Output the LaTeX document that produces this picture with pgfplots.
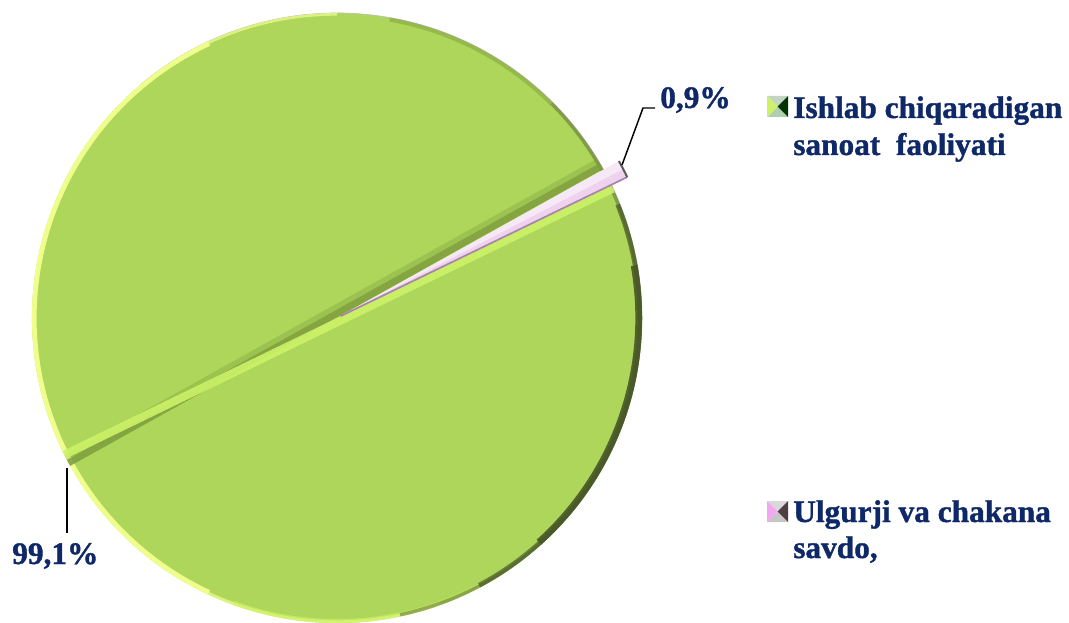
\documentclass[border=0pt]{standalone}
\usepackage{pgfplots}
\pgfplotsset{compat=1.18}
\usepackage{pgfplotstable}
\usepackage{fontspec}
\setmainfont{Liberation Serif}
\newfontfamily\lblfont{Liberation Serif Bold}[FakeBold=1.2]
\definecolor{navy}{RGB}{14,40,104}
\definecolor{pgreen}{RGB}{173,214,90}
\definecolor{plight}{RGB}{240,255,140}
\definecolor{pdark}{RGB}{72,88,40}
\definecolor{pshade}{RGB}{126,158,62}
\definecolor{pglow}{RGB}{205,242,104}
\definecolor{ppink}{RGB}{238,210,238}
\definecolor{ppinkd}{RGB}{170,132,170}

\pgfplotstableread{
cat value
Ishlab 99.1
Ulgurji 0.9
}\piedata

\begin{document}
\begin{tikzpicture}
\pgfplotstablegetelem{0}{value}\of\piedata \edef\vA{\pgfplotsretval}
\pgfplotstablegetelem{1}{value}\of\piedata \edef\vB{\pgfplotsretval}
\pgfmathsetmacro\pmid{27.5}
\pgfmathsetmacro\pstart{\pmid-\vB*1.8}
\pgfmathsetmacro\pend{\pmid+\vB*1.8}
\pgfmathsetmacro\gend{\pend+\vA*3.6}
\def\R{228.75pt}
\def\Rp{239pt}
\tikzset{lbl/.style={anchor=base west,inner sep=0,font=\lblfont\fontsize{23.5}{27.75}\selectfont,text=navy}}
\begin{axis}[width=801.75pt,height=467.25pt,scale only axis,
  xmin=0,xmax=1069,ymin=0,ymax=623,y dir=reverse,hide axis,clip=false]
\coordinate (bl) at (axis cs:0,623);
\coordinate (tr) at (axis cs:1069,0);
% green slice
\fill[pgreen] (axis cs:337,318) -- ++(\pend:\R) arc[start angle=\pend,end angle=\gend,radius=\R] -- cycle;
\draw[gray!50,line width=0.5pt] (axis cs:337,318) ++(-40:\R) arc[start angle=-40,end angle=130,radius=\R];
\begin{scope}
\clip (axis cs:337,318) circle[radius=\R];
% light left rim
\draw[plight,line width=7pt] (axis cs:337,318) ++(115:\R) arc[start angle=115,end angle=245,radius=\R];
\draw[plight,line width=4pt,opacity=0.7] (axis cs:337,318) ++(90:\R) arc[start angle=90,end angle=290,radius=\R];
\draw[pglow,line width=6pt,opacity=0.6] (axis cs:337,318) ++(250:\R) arc[start angle=250,end angle=310,radius=\R];
% dark right rim
\draw[pdark,line width=5pt,opacity=0.45] (axis cs:337,318) ++(-78:\R) arc[start angle=-78,end angle=45,radius=\R];
\draw[pdark,line width=10pt,opacity=0.9] (axis cs:337,318) ++(-48:\R) arc[start angle=-48,end angle=10,radius=\R];
\draw[pdark,line width=7pt,opacity=0.7] (axis cs:337,318) ++(-62:\R) arc[start angle=-62,end angle=22,radius=\R];
\draw[pshade,line width=6pt,opacity=0.5] (axis cs:337,318) ++(45:\R) arc[start angle=45,end angle=80,radius=\R];
% seam bands
\draw[pshade,line width=9pt,opacity=0.35] (axis cs:337,318) ++(\pend+90:5pt) ++(\pend:\R) -- ++({\pend+180}:{2.2*\R});
\draw[pshade,line width=5pt,opacity=0.8] (axis cs:337,318) ++(\pend+90:3pt) ++(\pend:\R) -- ++({\pend+180}:{2.2*\R});
\draw[pglow,line width=6pt,opacity=0.9] (axis cs:337,318) ++(\pstart-90:3pt) ++(\pstart:\R) -- ++({\pstart+180}:{2.2*\R});
\end{scope}
% pink slice (exploded)
\fill[ppink] (axis cs:337,318) ++(\pmid:3pt) -- ++(\pstart:\Rp) arc[start angle=\pstart,end angle=\pend,radius=\Rp] -- cycle;
\fill[white,opacity=0.5] (axis cs:337,318) ++(\pmid:3pt) -- ++(\pmid:\Rp) arc[start angle=\pmid,end angle=\pend,radius=\Rp] -- cycle;
\draw[ppinkd,line width=1.3pt] (axis cs:337,318) ++(\pmid:3pt) -- ++(\pstart:\Rp);
\draw[black!65,line width=1.5pt] (axis cs:337,318) ++(\pmid:3pt) ++(\pstart:\Rp) arc[start angle=\pstart,end angle=\pend,radius=\Rp];
% leader lines
\draw[black,line width=1.1pt] (axis cs:622,165) -- (axis cs:643,108) -- (axis cs:655,108);
\draw[black,line width=1.1pt] (axis cs:67,468) -- (axis cs:67,533);
% data labels
\node[lbl] at (axis cs:660,108) {0,9\%};
\node[lbl] at (axis cs:12,564) {99,1\%};
% legend markers
\fill[green!15!gray!40] (axis cs:767,96) -- (axis cs:788,96) -- (axis cs:777.5,106.5) -- cycle;
\fill[green!25!gray!50] (axis cs:767,117) -- (axis cs:788,117) -- (axis cs:777.5,106.5) -- cycle;
\fill[pglow] (axis cs:767,96) -- (axis cs:777.5,106.5) -- (axis cs:767,117) -- cycle;
\fill[black!80!green] (axis cs:788,96) -- (axis cs:777.5,106.5) -- (axis cs:788,117) -- cycle;
\fill[gray!30] (axis cs:767,501) -- (axis cs:788,501) -- (axis cs:777.5,511.5) -- cycle;
\fill[gray!45] (axis cs:767,522) -- (axis cs:788,522) -- (axis cs:777.5,511.5) -- cycle;
\fill[ppink!80!magenta] (axis cs:767,501) -- (axis cs:777.5,511.5) -- (axis cs:767,522) -- cycle;
\fill[black!80!magenta] (axis cs:788,501) -- (axis cs:777.5,511.5) -- (axis cs:788,522) -- cycle;
% legend text
\node[lbl] at (axis cs:793,118) {Ishlab chiqaradigan};
\node[lbl] at (axis cs:793,155) {sanoat\ \ faoliyati};
\node[lbl] at (axis cs:793,522) {Ulgurji va chakana};
\node[lbl] at (axis cs:793,558) {savdo,};
\end{axis}
\pgfresetboundingbox
\path[use as bounding box] (bl) rectangle (tr);
\end{tikzpicture}
\end{document}
